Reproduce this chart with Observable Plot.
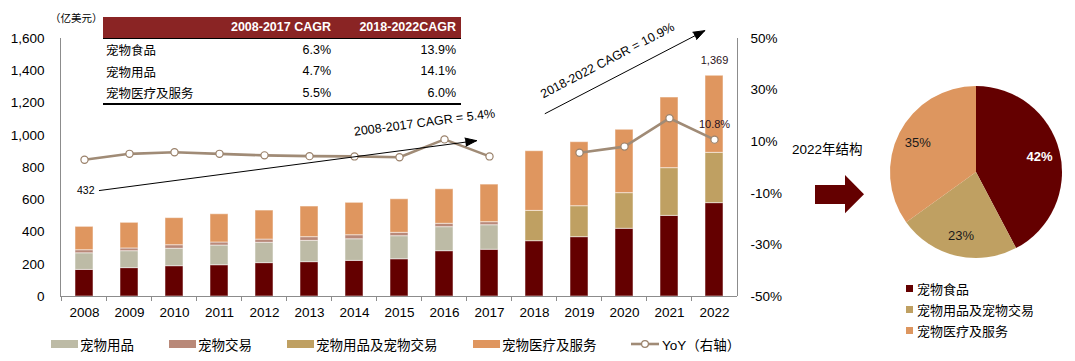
<!DOCTYPE html>
<html><head><meta charset="utf-8">
<script src="https://cdn.jsdelivr.net/npm/d3@7"></script>
<script src="https://cdn.jsdelivr.net/npm/@observablehq/plot@0.6"></script>
<style>
body{margin:0;background:#fff;}
#wrap{position:relative;width:1075px;height:361px;overflow:hidden;font-family:"Liberation Sans",Arial,"Noto Sans CJK SC",sans-serif;color:#000;}
.abs{position:absolute;}
.cjk{font-family:"Liberation Sans","Noto Sans CJK SC",sans-serif;}
table.cagr{position:absolute;left:103px;top:17px;width:358px;border-collapse:collapse;font-size:12.5px;table-layout:fixed;}
table.cagr th{background:#8A2424;color:#fff;font-weight:bold;height:21px;padding:0 5px;text-align:right;border-bottom:1.5px solid #000;}
table.cagr td{height:20.5px;padding:1px 5px 0 3px;text-align:right;}
table.cagr td:first-child{text-align:left;}
table.cagr tr:last-child td{border-bottom:2px solid #000;}
.leg{position:absolute;display:flex;align-items:center;height:16px;font-size:13.5px;white-space:nowrap;}
.leg .sw{width:27px;height:8px;margin-right:2px;}
.rleg{position:absolute;display:flex;align-items:center;height:16px;font-size:13px;white-space:nowrap;}
.rleg .sq{width:7px;height:7px;margin-right:4px;}
</style></head><body><div id="wrap"></div>
<script>
// ---------- data ----------
const years = ["2008","2009","2010","2011","2012","2013","2014","2015","2016","2017","2018","2019","2020","2021","2022"];
const food          = [165,176,188,194,207,213,221,231,281,290,343,368,420,500,579];
const supplies      = [103,105,108,122,126,132,134,143,149,152,null,null,null,null,null];
const trade         = [19,17,22,19,20,23,25,21,21,19,null,null,null,null,null];
const suppliesTrade = [null,null,null,null,null,null,null,null,null,null,188,192,221,296,312];
const services      = [145,159,168,175,180,190,201,208,214,233,370,397,393,438,478];
const yoy           = [3.0,5.3,5.9,5.3,4.7,4.4,4.3,4.0,10.9,4.3,null,5.7,8.1,19.1,10.8];

const seriesNames  = ["宠物食品","宠物用品","宠物交易","宠物用品及宠物交易","宠物医疗及服务"];
const seriesColors = ["#640000","#BDBBA6","#B98979","#BFA062","#DF965F"];
const legendOrder  = ["宠物用品","宠物交易","宠物用品及宠物交易","宠物医疗及服务"];

const leftTicks  = [0,200,400,600,800,1000,1200,1400,1600];
const rightTicks = [-50,-30,-10,10,30,50];
const leftDomain = [0,1600], rightDomain = [-50,50];

const tableHeaders = ["", "2008-2017 CAGR", "2018-2022CAGR"];
const tableRows    = ["宠物食品","宠物用品","宠物医疗及服务"];
const cagr0817     = ["6.3%","4.7%","5.5%"];
const cagr1822     = ["13.9%","14.1%","6.0%"];

const cagrNotes = ["2008-2017 CAGR = 5.4%", "2018-2022 CAGR = 10.9%"];

const pieNames  = ["宠物食品","宠物用品及宠物交易","宠物医疗及服务"];
const pieColors = ["#640000","#BFA062","#DD965F"];

// ---------- derived tables ----------
const stacked = [];
const seriesValues = [food, supplies, trade, suppliesTrade, services];
seriesNames.forEach((s,k) => years.forEach((y,i) => {
  const v = seriesValues[k][i];
  if (v != null) stacked.push({year:y, series:s, value:v});
}));
const totals = years.map((y,i) => ({year:y, total: d3.sum(seriesValues, a => a[i] ?? 0)}));
const yoyRows = years.map((y,i) => ({year:y, yoy: yoy[i]}));
const toLeft = p => leftDomain[0] + (p - rightDomain[0]) / (rightDomain[1]-rightDomain[0]) * (leftDomain[1]-leftDomain[0]);
const colorOf = Object.fromEntries(seriesNames.map((s,i)=>[s, seriesColors[i]]));

const padInner = 0.6;
const axisColor = "#8c8c8c";
const lineColor = "#A08B76";

function axesLines(index, scales, values, dims) {
  const {width, marginLeft, marginRight} = dims;
  const g = d3.create("svg:g").attr("stroke", axisColor).attr("fill","none").attr("shape-rendering","crispEdges");
  const xl = marginLeft, xr = width - marginRight;
  const yb = scales.y(leftDomain[0]), yt = scales.y(leftDomain[1]);
  g.append("line").attr("x1",xl).attr("x2",xl).attr("y1",yt).attr("y2",yb);
  g.append("line").attr("x1",xr).attr("x2",xr).attr("y1",yt).attr("y2",yb);
  g.append("line").attr("x1",xl).attr("x2",xr).attr("y1",yb).attr("y2",yb);
  const s = scales.x(years[1]) - scales.x(years[0]);
  years.forEach(yr => {
    const bx = scales.x(yr) - s*padInner/2;
    g.append("line").attr("x1",bx).attr("x2",bx).attr("y1",yb).attr("y2",yb+5);
  });
  return g.node();
}

const wrap = document.getElementById("wrap");

const main = Plot.plot({
  width: 1075, height: 361,
  marginLeft: 60, marginRight: 338, marginTop: 38, marginBottom: 65,
  style: {fontFamily: "Liberation Sans, Arial, sans-serif", fontSize: "13.5px", background: "transparent", overflow: "visible", color: "#000"},
  x: {type: "band", domain: years, paddingInner: padInner, paddingOuter: padInner/2},
  y: {domain: leftDomain},
  color: {domain: seriesNames, range: seriesColors},
  marks: [
    Plot.barY(stacked, {x: "year", y: "value", fill: "series", stroke: "#fff", strokeOpacity: 0.5, strokeWidth: 1}),
    axesLines,
    Plot.axisX({tickSize: 0, tickPadding: 11}),
    Plot.axisY({anchor: "left", ticks: leftTicks, tickFormat: d3.format(","), tickSize: 0, tickPadding: 16}),
    Plot.axisY({anchor: "right", ticks: rightTicks.map(toLeft), tickFormat: v => Math.round(rightDomain[0] + (v - leftDomain[0])/(leftDomain[1]-leftDomain[0])*(rightDomain[1]-rightDomain[0])) + "%", tickSize: 0, tickPadding: 13}),
    Plot.line(yoyRows, {x: "year", y: d => d.yoy == null ? NaN : toLeft(d.yoy), stroke: lineColor, strokeWidth: 2.6}),
    Plot.dot(yoyRows.filter(d => d.yoy != null), {x: "year", y: d => toLeft(d.yoy), r: 3.6, fill: "#fff", stroke: "#9A816A", strokeWidth: 1.2}),
    // annotations
    Plot.arrow([{a:"2008", b:645, c:"2017", d:977}], {x1:"a", y1:"b", x2:"c", y2:"d", insetStart: 15, insetEnd: 13, stroke:"#000", fill:"#000", strokeWidth: 1, headLength: 18, headAngle: 40}),
    Plot.arrow([{a:"2018", b:1100, c:"2022", d:1680}], {x1:"a", y1:"b", x2:"c", y2:"d", insetStart: 12, insetEnd: 11, stroke:"#000", fill:"#000", strokeWidth: 1, headLength: 18, headAngle: 40}),
    Plot.text([{x:"2015", y:1079, t:cagrNotes[0]}], {x:"x", y:"y", text:"t", rotate:-7.5, dx: 25, fontSize: 12.5, fill:"#000"}),
    Plot.text([{x:"2020", y:1464, t:cagrNotes[1]}], {x:"x", y:"y", text:"t", rotate:-27.5, dx: -17, fontSize: 12.5, fill:"#000"}),
    Plot.text([totals[0]], {x:"year", y: () => 657, text: d => d3.format(",")(d.total), textAnchor: "end", dx: 10, fontSize: 10.5, fill:"#000"}),
    Plot.text([totals[totals.length-1]], {x:"year", y:"total", text: d => d3.format(",")(d.total), dy: -15, fontSize: 11, fill:"#2a1020"}),
    Plot.text([yoyRows[yoyRows.length-1]], {x:"year", y: d => toLeft(d.yoy), text: d => d.yoy.toFixed(1) + "%", dy: -15, fontSize: 11, fill:"#2a1020"})
  ]
});
main.style.position = "absolute"; main.style.left = "0px"; main.style.top = "0px";
main.querySelectorAll('[aria-label="arrow"] path').forEach(p => { p.setAttribute("fill", "#000"); p.setAttribute("stroke-linejoin", "miter"); });
wrap.appendChild(main);

// unit label
const unit = document.createElement("div");
unit.className = "abs cjk"; unit.style.cssText += "left:50px;top:10px;font-size:10.5px;";
unit.textContent = "（亿美元）";
wrap.appendChild(unit);

// CAGR table
const tbl = document.createElement("table");
tbl.className = "cagr cjk";
let html = "<tr>" + tableHeaders.map(h => `<th>${h}</th>`).join("") + "</tr>";
tableRows.forEach((r,i) => { html += `<tr><td>${r}</td><td>${cagr0817[i]}</td><td>${cagr1822[i]}</td></tr>`; });
tbl.innerHTML = html;
const ths = tbl.querySelectorAll("th");
ths[0].style.width = "114px"; ths[1].style.width = "119px"; ths[2].style.width = "125px";
ths.forEach(t => t.style.boxSizing = "border-box");
wrap.appendChild(tbl);

// bottom legend
const legLefts = [51,169,287,473];
legendOrder.forEach((s,i) => {
  const d = document.createElement("div");
  d.className = "leg cjk"; d.style.left = legLefts[i] + "px"; d.style.top = "335.5px";
  d.innerHTML = `<span class="sw" style="background:${colorOf[s]}"></span><span>${s}</span>`;
  wrap.appendChild(d);
});
const yl = document.createElement("div");
yl.className = "leg cjk"; yl.style.left = "631px"; yl.style.top = "335.5px";
yl.innerHTML = `<svg width="30" height="10" style="margin-right:1px"><line x1="0" x2="28" y1="5" y2="5" stroke="${lineColor}" stroke-width="2.6"/><circle cx="14" cy="5" r="3.4" fill="#fff" stroke="#9A816A" stroke-width="1.2"/></svg><span>YoY（右轴）</span>`;
wrap.appendChild(yl);

// 2022 structure title + arrow
const st = document.createElement("div");
st.className = "abs cjk"; st.style.cssText += "left:792px;top:138px;font-size:13.5px;";
st.textContent = "2022年结构";
wrap.appendChild(st);
const arr = document.createElementNS("http://www.w3.org/2000/svg","svg");
arr.setAttribute("width","60"); arr.setAttribute("height","45");
arr.style.cssText = "position:absolute;left:810px;top:172px;";
arr.innerHTML = `<polygon points="5,13 35,13 35,3 54,22.3 35,41.3 35,32 5,32" fill="#640000"/>`;
wrap.appendChild(arr);

// pie
const pieValues = [food[14], suppliesTrade[14], services[14]];
function pieMark(index, scales, values, dims) {
  const {width, height} = dims;
  const R = Math.min(width, height)/2 - 4;
  const g = d3.create("svg:g").attr("transform", `translate(${width/2},${height/2})`);
  const arcs = d3.pie().sort(null)(pieValues);
  const arc = d3.arc().innerRadius(0).outerRadius(R);
  const lab = d3.arc().innerRadius(R*0.76).outerRadius(R*0.76);
  const tot = d3.sum(pieValues);
  g.selectAll("path").data(arcs).join("path").attr("d", arc).attr("fill", (d,i) => pieColors[i]);
  g.selectAll("text").data(arcs).join("text")
    .attr("transform", d => `translate(${lab.centroid(d)})`)
    .attr("text-anchor","middle").attr("dy","0.35em")
    .attr("font-size", 13).attr("font-family","Liberation Sans, Arial, sans-serif")
    .attr("font-weight", (d,i) => i===0 ? "bold" : "normal")
    .attr("fill", (d,i) => i===0 ? "#fff" : "#1a1a1a")
    .text(d => Math.round(d.value/tot*100) + "%");
  return g.node();
}
const pie = Plot.plot({width: 180, height: 180, margin: 0, style: {background:"transparent", overflow:"visible"}, marks: [pieMark]});
pie.style.position = "absolute"; pie.style.left = "885.5px"; pie.style.top = "81.5px";
wrap.appendChild(pie);

// right legend
const rTops = [280, 301, 322];
pieNames.forEach((s,i) => {
  const d = document.createElement("div");
  d.className = "rleg cjk"; d.style.left = "906px"; d.style.top = rTops[i] + "px";
  d.innerHTML = `<span class="sq" style="background:${pieColors[i]}"></span><span>${s}</span>`;
  wrap.appendChild(d);
});
</script></body></html>
